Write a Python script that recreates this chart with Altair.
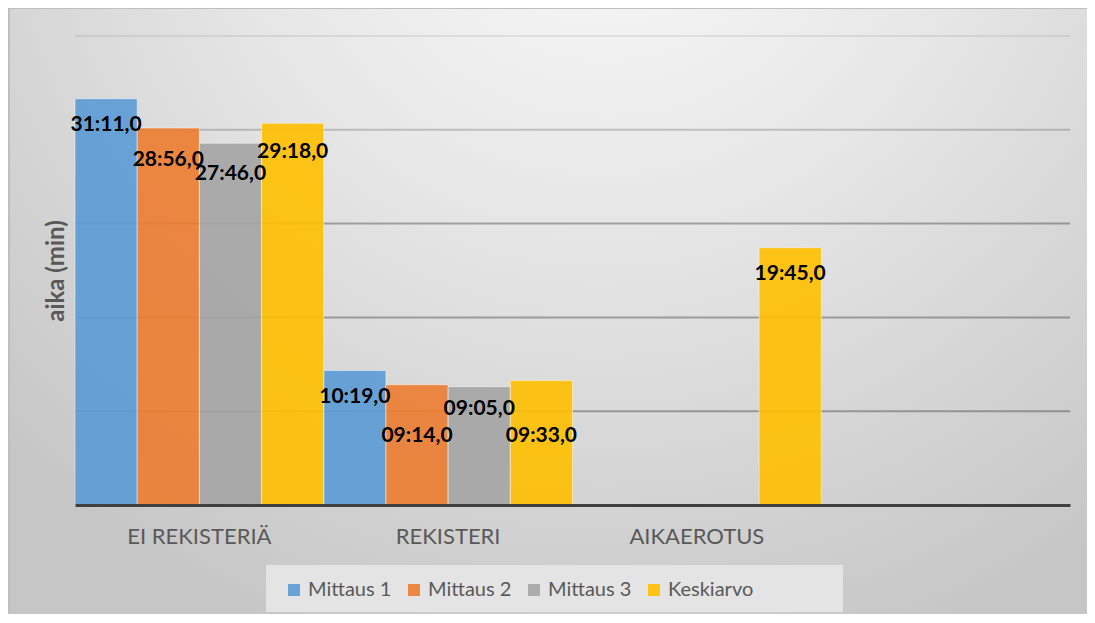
import altair as alt
import pandas as pd

# ---- data ----
categories = ["EI REKISTERIÄ", "REKISTERI", "AIKAEROTUS"]
series = ["Mittaus 1", "Mittaus 2", "Mittaus 3", "Keskiarvo"]
colors = ["#5B9BD5", "#ED7D31", "#A5A5A5", "#FFC000"]

mittaus1 = ["31:11,0", "10:19,0", None]
mittaus2 = ["28:56,0", "09:14,0", None]
mittaus3 = ["27:46,0", "09:05,0", None]
keskiarvo = ["29:18,0", "09:33,0", "19:45,0"]

# label shift below bar top (px), as placed in the reference
shift1 = [26, 26, None]
shift2 = [32, 51, None]
shift3 = [31, 22, None]
shift4 = [29, 55, 26]

grid_values = [7.2, 14.4, 21.6, 28.8, 36.0]  # 0:07:12 steps
y_max = 36.0


def to_minutes(s):
    m, rest = s.split(":")
    return int(m) + float(rest.replace(",", ".")) / 60.0


rows = []
for name, vals, shifts in zip(series, [mittaus1, mittaus2, mittaus3, keskiarvo],
                              [shift1, shift2, shift3, shift4]):
    for cat, v, sh in zip(categories, vals, shifts):
        if v is None:
            continue
        rows.append({"cat": cat, "series": name, "minutes": to_minutes(v),
                     "label": v, "dy": sh})
df = pd.DataFrame(rows)
grid_df = pd.DataFrame({"v": grid_values})

W, H = 995, 469
FONT = "Lato"
x_domain = categories + [" "]

x_enc = alt.X("cat:N", sort=x_domain,
              scale=alt.Scale(domain=x_domain, paddingInner=0, paddingOuter=0),
              axis=alt.Axis(title=None, labelFont=FONT, labelFontSize=22,
                            labelColor="#595959", ticks=False, grid=False,
                            domainColor="#404040", domainWidth=3,
                            labelPadding=21, labelAngle=0, zindex=1))
xo_enc = alt.XOffset("series:N", sort=series,
                     scale=alt.Scale(domain=series, paddingInner=0, paddingOuter=0))
y_scale = alt.Scale(domain=[0, y_max], nice=False, zero=True)
y_axis = alt.Axis(title="aika (min)", titleFont=FONT, titleFontSize=24,
                  titleFontWeight="bold", titleColor="#595959", labels=False,
                  ticks=False, domain=False, grid=False, titlePadding=7, zindex=1)

background = alt.Chart(pd.DataFrame({"a": [0]})).mark_rect(
    fill=alt.Gradient(
        gradient="radial",
        x1=0.53, y1=0.08, r1=0.0,
        x2=0.53, y2=0.08, r2=0.75,
        stops=[alt.GradientStop(color="#fbfbfb", offset=0),
               alt.GradientStop(color="#e6e6e6", offset=0.45),
               alt.GradientStop(color="#c6c6c6", offset=1)],
    ),
).encode(x=alt.value(-67), x2=alt.value(W + 60),
         y=alt.value(-28), y2=alt.value(H + 140))

frame_top = alt.Chart(pd.DataFrame({"a": [0]})).mark_rule(
    color="#bfbfbf", strokeWidth=2).encode(
    x=alt.value(-67), x2=alt.value(W + 60), y=alt.value(-28))
frame_left = alt.Chart(pd.DataFrame({"a": [0]})).mark_rule(
    color="#bfbfbf", strokeWidth=2).encode(
    x=alt.value(-66), y=alt.value(-28), y2=alt.value(H + 140))

grid = alt.Chart(grid_df).mark_rule(color="black", strokeWidth=2).encode(
    y=alt.Y("v:Q", scale=y_scale, axis=y_axis),
    x=alt.value(0), x2=alt.value(W),
    opacity=alt.Opacity("v:Q", scale=alt.Scale(domain=[21.6, 36], range=[0.3, 0.07],
                                               clamp=True), legend=None),
)

legend_box = alt.Chart(pd.DataFrame({"a": [0]})).mark_rect(
    fill="#e4e4e4").encode(
    x=alt.value(191), x2=alt.value(768), y=alt.value(529), y2=alt.value(576))

bars = alt.Chart(df).mark_bar(opacity=0.9, stroke="white", strokeWidth=1,
                              strokeOpacity=0.5).encode(
    x=x_enc, xOffset=xo_enc,
    y=alt.Y("minutes:Q", scale=y_scale, axis=y_axis),
    color=alt.Color("series:N", sort=series,
                    scale=alt.Scale(domain=series, range=colors),
                    legend=alt.Legend(orient="none", legendX=209, legendY=544,
                                      direction="horizontal", title=None,
                                      symbolType="square", symbolSize=144,
                                      symbolStrokeWidth=0, symbolOpacity=0.9,
                                      labelFont=FONT, labelFontSize=20,
                                      labelColor="#595959", columnPadding=12,
                                      labelOffset=4, padding=0)),
)

labels = alt.Chart(df).transform_calculate(
    ylab=f"datum.minutes - datum.dy * {y_max} / {H}"
).mark_text(font=FONT, fontWeight="bold", fontSize=21,
            color="black", baseline="middle").encode(
    x=x_enc, xOffset=xo_enc,
    y=alt.Y("ylab:Q", scale=y_scale, axis=y_axis),
    text="label:N",
)

chart = alt.layer(background, frame_top, frame_left, grid, legend_box, bars,
                  labels).properties(
    width=W, height=H,
    autosize=alt.AutoSizeParams(type="none"),
    padding={"left": 67, "top": 28, "right": 17, "bottom": 109},
).configure_view(stroke=None).configure(background="white")

chart.save("out.html", embed_options={"renderer": "svg", "actions": False})
